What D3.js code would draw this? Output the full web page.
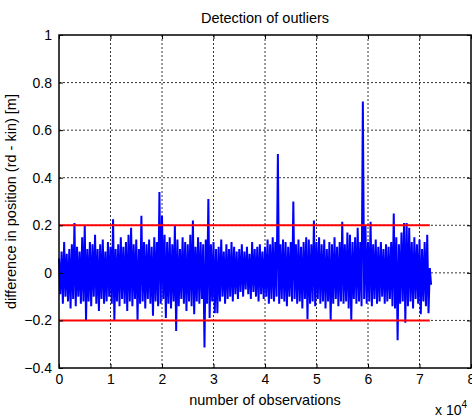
<!DOCTYPE html>
<html>
<head>
<meta charset="utf-8">
<script src="https://cdn.jsdelivr.net/npm/d3@7"></script>
<style>
  body { margin: 0; background: #fff; }
  svg { font-family: Arial, "Liberation Sans", sans-serif; }
  .tick text { font-size: 14px; fill: #000; }
</style>
</head>
<body>
<div id="chart"></div>
<script>
// tick labels
var xTicks = [0, 1, 2, 3, 4, 5, 6, 7, 8];
var yTicks = [-0.4, -0.2, 0, 0.2, 0.4, 0.6, 0.8, 1];

// outlier thresholds [m]
var thresholds = [0.2, -0.2];
var dataEnd = 7.2; // x 10^4 observations

// envelope of the blue signal, read every 0.05 x 10^4 observations
var upper = [
  0.06, 0.09, 0.13, 0.08, 0.10, 0.12, 0.21, 0.11, 0.09, 0.15,
  0.20, 0.10, 0.13, 0.12, 0.16, 0.10, 0.12, 0.14, 0.09, 0.13,
  0.11, 0.225, 0.10, 0.12, 0.15, 0.11, 0.13, 0.16, 0.19, 0.12,
  0.14, 0.10, 0.24, 0.13, 0.12, 0.14, 0.11, 0.15, 0.13, 0.34,
  0.24, 0.16, 0.13, 0.15, 0.12, 0.20, 0.14, 0.10, 0.15, 0.13,
  0.12, 0.16, 0.22, 0.11, 0.15, 0.13, 0.12, 0.14, 0.31, 0.12,
  0.13, 0.10, 0.11, 0.14, 0.09, 0.12, 0.10, 0.13, 0.11, 0.09,
  0.10, 0.12, 0.09, 0.11, 0.08, 0.13, 0.10, 0.11, 0.12, 0.09,
  0.11, 0.14, 0.12, 0.15, 0.13, 0.50, 0.12, 0.14, 0.13, 0.11,
  0.13, 0.30, 0.12, 0.14, 0.11, 0.13, 0.15, 0.14, 0.12, 0.22,
  0.13, 0.15, 0.12, 0.14, 0.10, 0.13, 0.12, 0.15, 0.11, 0.13,
  0.215, 0.12, 0.17, 0.16, 0.13, 0.15, 0.19, 0.13, 0.72, 0.20,
  0.13, 0.215, 0.12, 0.14, 0.11, 0.13, 0.10, 0.12, 0.11, 0.13,
  0.25, 0.15, 0.12, 0.17, 0.21, 0.21, 0.19, 0.13, 0.15, 0.12,
  0.14, 0.10, 0.13, 0.16, 0.02
];
var lower = [
  -0.09, -0.13, -0.10, -0.12, -0.15, -0.11, -0.14, -0.10, -0.13, -0.12,
  -0.20, -0.12, -0.14, -0.10, -0.13, -0.16, -0.11, -0.13, -0.12, -0.10,
  -0.13, -0.20, -0.12, -0.14, -0.11, -0.13, -0.16, -0.12, -0.14, -0.11,
  -0.20, -0.13, -0.12, -0.15, -0.11, -0.13, -0.18, -0.12, -0.14, -0.13,
  -0.11, -0.19, -0.13, -0.15, -0.12, -0.244, -0.14, -0.11, -0.13, -0.16,
  -0.12, -0.14, -0.174, -0.12, -0.13, -0.11, -0.314, -0.13, -0.19, -0.12,
  -0.17, -0.17, -0.12, -0.10, -0.13, -0.11, -0.10, -0.12, -0.09, -0.11,
  -0.08, -0.10, -0.07, -0.09, -0.11, -0.08, -0.10, -0.12, -0.09, -0.11,
  -0.10, -0.13, -0.11, -0.12, -0.10, -0.13, -0.11, -0.12, -0.14, -0.10,
  -0.12, -0.11, -0.13, -0.12, -0.15, -0.11, -0.195, -0.13, -0.12, -0.14,
  -0.11, -0.13, -0.12, -0.15, -0.12, -0.20, -0.13, -0.11, -0.14, -0.12,
  -0.13, -0.12, -0.15, -0.20, -0.11, -0.13, -0.12, -0.14, -0.11, -0.13,
  -0.12, -0.14, -0.11, -0.13, -0.12, -0.10, -0.13, -0.12, -0.11, -0.14,
  -0.15, -0.283, -0.13, -0.12, -0.21, -0.14, -0.12, -0.15, -0.11, -0.13,
  -0.174, -0.12, -0.14, -0.17, -0.05
];
var step = 0.05;

// set the dimensions and margins of the graph
var margin = { top: 35, right: 1, bottom: 49, left: 59 };
var width = 472 - margin.left - margin.right;
var height = 417 - margin.top - margin.bottom;

var x = d3.scaleLinear().domain([0, 8]).range([0, width]);
var y = d3.scaleLinear().domain([-0.4, 1]).range([height, 0]);

var svg = d3.select('#chart').append('svg')
  .attr('width', 472)
  .attr('height', 417)
  .append('g')
  .attr('transform', 'translate(' + margin.left + ',' + margin.top + ')');

// grid lines
svg.append('g')
  .selectAll('line')
  .data(xTicks.slice(1, -1))
  .join('line')
  .attr('x1', function (d) { return x(d); })
  .attr('x2', function (d) { return x(d); })
  .attr('y1', 0)
  .attr('y2', height)
  .style('stroke', '#000')
  .style('stroke-width', 0.8)
  .style('stroke-dasharray', '2,2');

svg.append('g')
  .selectAll('line')
  .data(yTicks.slice(1, -1))
  .join('line')
  .attr('x1', 0)
  .attr('x2', width)
  .attr('y1', function (d) { return y(d); })
  .attr('y2', function (d) { return y(d); })
  .style('stroke', '#000')
  .style('stroke-width', 0.8)
  .style('stroke-dasharray', '2,2');

// signal: zigzag between the upper and lower envelope
var points = [];
upper.forEach(function (u, i) {
  points.push([i * step, u]);
  points.push([i * step + step / 2, lower[i]]);
});

var signal = d3.line()
  .x(function (d) { return x(d[0]); })
  .y(function (d) { return y(d[1]); });

svg.append('path')
  .datum(points)
  .attr('d', signal)
  .style('fill', 'none')
  .style('stroke', '#0000ff')
  .style('stroke-width', 2)
  .style('stroke-linejoin', 'bevel');

// threshold lines
svg.append('g')
  .selectAll('line')
  .data(thresholds)
  .join('line')
  .attr('x1', x(0))
  .attr('x2', x(dataEnd))
  .attr('y1', function (d) { return y(d); })
  .attr('y2', function (d) { return y(d); })
  .style('stroke', '#ff0000')
  .style('stroke-width', 2);

// axes, ticks inward as in the original
function styleAxis(g) {
  g.select('.domain').remove();
  g.selectAll('.tick line').style('stroke', '#000');
}

svg.append('g')
  .attr('transform', 'translate(0,' + height + ')')
  .call(d3.axisBottom(x).tickValues(xTicks).tickSize(-4).tickPadding(6)
    .tickFormat(d3.format('d')))
  .call(styleAxis);

svg.append('g')
  .call(d3.axisTop(x).tickValues(xTicks).tickSize(-4).tickFormat(''))
  .call(styleAxis);

svg.append('g')
  .call(d3.axisLeft(y).tickValues(yTicks).tickSize(-4).tickPadding(7)
    .tickFormat(function (d) { return d === 0 ? '0' : d3.format('')(+d.toFixed(1)); }))
  .call(styleAxis);

svg.append('g')
  .attr('transform', 'translate(' + width + ',0)')
  .call(d3.axisRight(y).tickValues(yTicks).tickSize(-4).tickFormat(''))
  .call(styleAxis);

// box
svg.append('rect')
  .attr('width', width)
  .attr('height', height)
  .style('fill', 'none')
  .style('stroke', '#000')
  .style('stroke-width', 1.5);

// title
svg.append('text')
  .attr('x', width / 2)
  .attr('y', -12)
  .style('text-anchor', 'middle')
  .style('font-size', '14.5px')
  .text('Detection of outliers');

// text label for the x axis
svg.append('text')
  .attr('x', width / 2)
  .attr('y', height + 37)
  .style('text-anchor', 'middle')
  .style('font-size', '14.5px')
  .text('number of observations');

// exponent
var expo = svg.append('text')
  .attr('x', width - 36)
  .attr('y', height + 47)
  .style('font-size', '14px');
expo.append('tspan').text('x 10');
expo.append('tspan').attr('dy', -7).style('font-size', '10px').text('4');

// text label for the y axis
svg.append('text')
  .attr('transform', 'rotate(-90)')
  .attr('x', -height / 2)
  .attr('y', -43)
  .style('text-anchor', 'middle')
  .style('font-size', '14.5px')
  .text('difference in position (rd - kin) [m]');
</script>
</body>
</html>
